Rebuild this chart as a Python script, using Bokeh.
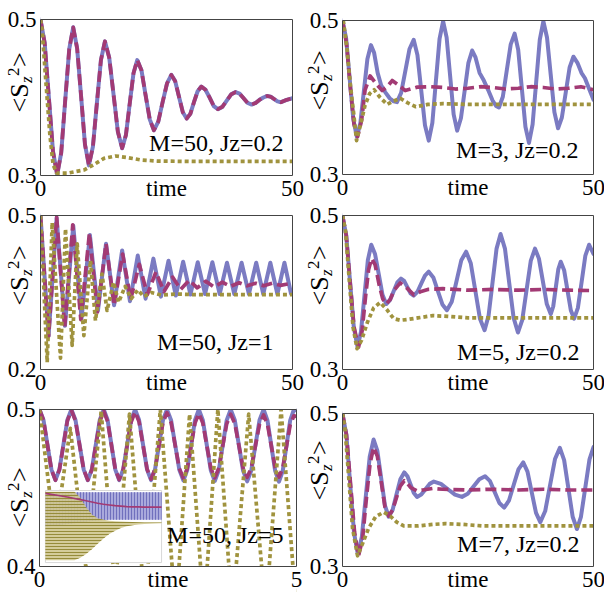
import math
from bokeh.plotting import figure
from bokeh.layouts import column, row
from bokeh.models import Label, Range1d
from bokeh.embed import file_html
from bokeh.resources import INLINE

SERIF = "Liberation Serif"
BLUE, MAG, OLV = "#7b7bc2", "#a23a74", "#a0933e"

# ---------------- top-left: M=50, Jz=0.2 (solid and dashed coincide) ----------------
tl_t = [0, 0.83, 1.66, 2.48, 3.31, 4.11, 4.90, 5.70, 6.49, 7.27, 8.05, 8.82, 9.6, 10.40, 11.19, 11.99,
        12.78, 13.64, 14.49, 15.35, 16.2, 16.95, 17.7, 18.45, 19.2, 20.03, 20.85, 21.68, 22.5, 23.37,
        24.23, 25.1, 25.96, 26.72, 27.48, 28.24, 29.0, 29.73, 30.45, 31.18, 31.9, 32.73, 33.55, 34.38,
        35.2, 36.08, 36.95, 37.83, 38.7, 39.5, 40.3, 41.1, 41.9, 42.68, 43.45, 44.23, 45.0, 45.68,
        46.35, 47.03, 47.7, 48.85, 50]
tl_v = [0.500, 0.470, 0.400, 0.331, 0.301, 0.329, 0.396, 0.462, 0.490, 0.463, 0.402, 0.340, 0.313, 0.337,
        0.393, 0.448, 0.472, 0.451, 0.404, 0.356, 0.335, 0.352, 0.392, 0.431, 0.448, 0.435, 0.403, 0.372,
        0.358, 0.369, 0.394, 0.418, 0.429, 0.421, 0.401, 0.381, 0.373, 0.379, 0.394, 0.408, 0.414, 0.410,
        0.400, 0.389, 0.385, 0.388, 0.396, 0.404, 0.407, 0.405, 0.399, 0.393, 0.391, 0.393, 0.397, 0.400,
        0.402, 0.401, 0.398, 0.395, 0.394, 0.397, 0.399]
tl_o_t = [0, 0.33, 1.0, 1.85, 2.5, 3.2, 5.3, 8.6, 10.6, 12.6, 14.9, 17.2, 19.9, 23.2, 30, 40, 50]
tl_o_v = [0.5, 0.486, 0.426, 0.353, 0.314, 0.303, 0.303, 0.307, 0.314, 0.322, 0.325, 0.323, 0.320, 0.3185,
          0.318, 0.318, 0.318]

# ---------------- top-right: M=3, Jz=0.2 ----------------
tr_b_t = [0, 0.72, 1.43, 2.15, 2.86, 3.56, 4.26, 4.96, 5.66, 6.3, 7.0, 7.7, 8.5, 9.4, 10.2, 10.85, 11.68,
          12.52, 13.35, 14.18, 14.93, 15.68, 16.43, 17.18, 17.9, 18.61, 19.33, 20.04, 20.74, 21.44, 22.14,
          22.84, 23.59, 24.34, 25.08, 25.83, 26.5, 27.3, 28.16, 29.0, 29.9, 30.6, 31.16, 31.94, 32.72,
          33.51, 34.29, 35.0, 35.72, 36.44, 37.15, 37.87, 38.58, 39.3, 40.01, 40.74, 41.48, 42.21, 42.94,
          43.7, 44.47, 45.24, 46.0, 46.8, 47.6, 48.3, 49.2, 50]
tr_b_v = [0.5, 0.477, 0.4245, 0.372, 0.349, 0.367, 0.4085, 0.450, 0.468, 0.458, 0.432, 0.416, 0.407, 0.399,
          0.395, 0.394, 0.406, 0.4345, 0.463, 0.475, 0.455, 0.4095, 0.364, 0.344, 0.367, 0.4215, 0.476,
          0.499, 0.478, 0.428, 0.378, 0.357, 0.373, 0.409, 0.445, 0.461, 0.452, 0.432, 0.422, 0.410, 0.396,
          0.389, 0.387, 0.401, 0.435, 0.469, 0.483, 0.462, 0.412, 0.362, 0.341, 0.365, 0.420, 0.475, 0.499,
          0.478, 0.4295, 0.381, 0.360, 0.374, 0.4065, 0.439, 0.453, 0.445, 0.432, 0.425, 0.410, 0.397]
tr_m_t = [0, 0.8, 1.6, 2.3, 3.0, 3.8, 4.5, 5.5, 6.7, 7.9, 8.9, 9.9, 11.2, 12.5, 14.9, 17.5, 20, 22.5, 25,
          27.5, 30, 32.5, 35, 37.5, 40, 42.5, 45, 47.5, 50]
tr_m_v = [0.5, 0.47, 0.41, 0.365, 0.349, 0.37, 0.41, 0.428, 0.418, 0.409, 0.414, 0.422, 0.416, 0.409, 0.4135,
          0.414, 0.413, 0.411, 0.412, 0.414, 0.413, 0.411, 0.412, 0.414, 0.413, 0.411, 0.412, 0.414, 0.410]
tr_o_t = [0, 0.2, 0.9, 1.5, 2.2, 2.8, 3.6, 4.5, 5.4, 6.3, 7.5, 8.9, 10.0, 11.5, 13.0, 14.6, 17, 20, 25, 30,
          40, 50]
tr_o_v = [0.5, 0.498, 0.463, 0.42, 0.381, 0.344, 0.365, 0.39, 0.405, 0.41, 0.40, 0.391, 0.395, 0.399, 0.393,
          0.388, 0.391, 0.392, 0.391, 0.391, 0.391, 0.391]

# ---------------- middle-left: M=50, Jz=1 ----------------
ml_b_t = [0, 1.6, 3.2, 4.85, 6.5, 8.15, 9.8, 11.4, 13.0, 14.6, 16.2, 17.75, 19.3, 20.85, 22.4, 23.9, 25.4,
          26.85, 28.3, 29.75, 31.2, 32.65, 34.1, 35.55, 37.0, 38.45, 39.9, 41.35, 42.8, 44.2, 45.6, 47.0,
          48.4, 49.7, 50]
ml_b_v = [0.5, 0.265, 0.495, 0.285, 0.48, 0.30, 0.462, 0.315, 0.445, 0.325, 0.432, 0.333, 0.422, 0.338,
          0.416, 0.342, 0.412, 0.344, 0.410, 0.346, 0.409, 0.347, 0.409, 0.347, 0.408, 0.347, 0.408, 0.347,
          0.408, 0.347, 0.408, 0.347, 0.408, 0.348, 0.352]
ml_m_t = [0, 1.6, 3.2, 4.8, 6.4, 8.0, 9.7, 11.3, 13.0, 14.6, 16.3, 17.9, 19.6, 21.2, 22.9, 24.5, 26.2, 27.8,
          29.5, 31.1, 32.8, 34.4, 36.1, 37.7, 39.4, 41.0, 42.7, 44.3, 46.0, 47.6, 49.3, 50]
ml_m_v = [0.5, 0.265, 0.497, 0.282, 0.482, 0.297, 0.465, 0.312, 0.445, 0.325, 0.425, 0.337, 0.405, 0.346,
          0.39, 0.352, 0.38, 0.356, 0.374, 0.359, 0.372, 0.361, 0.370, 0.362, 0.369, 0.363, 0.368, 0.363,
          0.368, 0.364, 0.367, 0.366]
ml_o_t = [0, 1.33, 2.32, 3.97, 4.96, 6.28, 7.28, 8.6, 9.92, 10.9, 12.2, 13.2, 14.5, 15.5, 16.8, 18.0, 19.3,
          20.5, 22.0, 24.0, 27.0, 30.0, 40.0, 50.0]
ml_o_v = [0.5, 0.214, 0.486, 0.222, 0.474, 0.247, 0.445, 0.266, 0.412, 0.295, 0.386, 0.315, 0.37, 0.331,
          0.362, 0.338, 0.355, 0.342, 0.35, 0.345, 0.347, 0.346, 0.346, 0.346]

# ---------------- middle-right: M=5, Jz=0.2 ----------------
mr_b_t = [0, 0.75, 1.5, 2.25, 3.0, 3.68, 4.37, 5.05, 5.73, 6.48, 7.23, 7.97, 8.72, 9.45, 10.19, 10.92, 11.65,
          12.28, 12.92, 13.55, 14.18, 14.93, 15.68, 16.43, 17.18, 18.09, 18.99, 19.9, 20.8, 21.76, 22.72,
          23.67, 24.63, 25.55, 26.47, 27.38, 28.3, 29.1, 29.9, 30.69, 31.49, 32.36, 33.22, 34.09, 34.95,
          35.8, 36.65, 37.5, 38.35, 39.13, 39.92, 40.7, 41.48, 41.98, 42.48, 42.98, 43.48, 44.15, 44.81,
          45.48, 46.14, 46.89, 47.64, 48.38, 49.13, 50]
mr_b_v = [0.5, 0.474, 0.4145, 0.355, 0.329, 0.349, 0.3955, 0.442, 0.462, 0.450, 0.4235, 0.397, 0.385, 0.390,
          0.4015, 0.413, 0.418, 0.415, 0.407, 0.399, 0.396, 0.401, 0.4115, 0.422, 0.427, 0.4195, 0.402,
          0.3845, 0.377, 0.388, 0.415, 0.442, 0.453, 0.438, 0.402, 0.366, 0.351, 0.370, 0.4135, 0.457, 0.476,
          0.457, 0.412, 0.367, 0.348, 0.364, 0.4025, 0.441, 0.457, 0.444, 0.4145, 0.385, 0.372, 0.382, 0.406,
          0.430, 0.440, 0.429, 0.403, 0.377, 0.366, 0.380, 0.414, 0.448, 0.462, 0.450]
mr_m_t = [0, 0.75, 1.5, 2.3, 3.2, 3.9, 4.6, 5.2, 5.8, 6.5, 7.3, 8.0, 8.7, 9.5, 10.3, 11.5, 12.8, 14.2, 15.5,
          17, 20, 25, 30, 35, 40, 45, 50]
mr_m_v = [0.5, 0.474, 0.4145, 0.355, 0.329, 0.35, 0.395, 0.43, 0.444, 0.436, 0.41, 0.392, 0.385, 0.391, 0.403,
          0.4125, 0.406, 0.397, 0.401, 0.404, 0.405, 0.403, 0.404, 0.403, 0.404, 0.403, 0.4025]
mr_o_t = [0, 0.6, 1.3, 2.1, 2.9, 3.8, 5.0, 6.2, 7.5, 8.8, 10.2, 11.5, 13, 15, 18, 21, 25, 30, 40, 50]
mr_o_v = [0.5, 0.48, 0.42, 0.355, 0.327, 0.338, 0.362, 0.38, 0.387, 0.378, 0.366, 0.364, 0.365, 0.367, 0.370,
          0.369, 0.367, 0.367, 0.367, 0.367]

# ---------------- bottom-left: M=50, Jz=5 ----------------
bl_t = [0, 0.0775, 0.155, 0.2325, 0.31, 0.3875, 0.465, 0.5425, 0.62, 0.70, 0.78, 0.86, 0.94, 1.0175, 1.095,
        1.1725, 1.25, 1.325, 1.40, 1.475, 1.55, 1.6275, 1.705, 1.7825, 1.86, 1.9375, 2.015, 2.0925, 2.17,
        2.2475, 2.325, 2.4025, 2.48, 2.56, 2.64, 2.72, 2.80, 2.875, 2.95, 3.025, 3.10, 3.1775, 3.255, 3.3325,
        3.41, 3.4875, 3.565, 3.6425, 3.72, 3.80, 3.88, 3.96, 4.04, 4.12, 4.20, 4.28, 4.36, 4.435, 4.51,
        4.585, 4.66, 4.7325, 4.805, 4.8775, 4.95, 5.0]
bl_b_v = [0.5, 0.4933, 0.4775, 0.4617, 0.455, 0.4618, 0.4775, 0.4933, 0.5, 0.4933, 0.4775, 0.4617, 0.455,
          0.4618, 0.4775, 0.4933, 0.5, 0.4933, 0.4775, 0.4617, 0.455, 0.4618, 0.4775, 0.4933, 0.5, 0.4933,
          0.4775, 0.4617, 0.455, 0.4618, 0.4775, 0.4933, 0.5, 0.4932, 0.4774, 0.4616, 0.4548, 0.4616, 0.4774,
          0.4932, 0.5, 0.4932, 0.4773, 0.4613, 0.4545, 0.4613, 0.4773, 0.4932, 0.5, 0.4931, 0.4771, 0.4611,
          0.4542, 0.4611, 0.4771, 0.4931, 0.5, 0.4931, 0.477, 0.4609, 0.454, 0.4609, 0.477, 0.4931, 0.5, 0.4995]
bl_m_v = [0.5, 0.4933, 0.4775, 0.4617, 0.455, 0.4617, 0.4773, 0.4928, 0.4995, 0.4928, 0.4773, 0.4617, 0.455,
          0.4616, 0.477, 0.4924, 0.499, 0.4924, 0.4772, 0.4619, 0.4553, 0.4618, 0.4769, 0.492, 0.4985, 0.4921,
          0.4771, 0.4621, 0.4557, 0.4620, 0.4769, 0.4917, 0.498, 0.4917, 0.4771, 0.4625, 0.4562, 0.4624,
          0.4769, 0.4913, 0.4975, 0.4914, 0.477, 0.4627, 0.4565, 0.4626, 0.4768, 0.4909, 0.497, 0.491, 0.4769,
          0.4628, 0.4568, 0.4628, 0.4767, 0.4905, 0.4965, 0.4906, 0.4768, 0.4629, 0.457, 0.4629, 0.4765,
          0.4902, 0.496, 0.4955]
bl_o_t = [0, 0.3, 0.6, 0.9, 1.2, 1.47, 1.75, 2.05, 2.35, 2.65, 2.92, 3.2, 3.47, 3.75, 4.07, 4.4, 4.7, 5.0]
bl_o_v = [0.5, 0.42, 0.488, 0.40, 0.499, 0.385, 0.497, 0.375, 0.5, 0.37, 0.497, 0.37, 0.5, 0.37, 0.497, 0.37,
          0.5, 0.37]
# inset of the bottom-left panel (long-time view, arbitrary units)
ins_t = [0, 5, 10, 15, 20, 25, 30, 35, 40, 45, 50, 55, 60, 65, 70, 75, 80, 85, 90, 95, 100]
ins_ylim = [0.2, 0.5]
ins_b_hi = [0.493, 0.493, 0.493, 0.493, 0.493, 0.493, 0.493, 0.493, 0.493, 0.493, 0.493, 0.493, 0.493,
            0.493, 0.493, 0.493, 0.493, 0.493, 0.493, 0.493, 0.493]
ins_b_lo = [0.350, 0.352, 0.355, 0.358, 0.361, 0.364, 0.367, 0.370, 0.373, 0.375, 0.377, 0.378, 0.378,
            0.378, 0.378, 0.378, 0.378, 0.378, 0.378, 0.378, 0.378]
ins_o_hi = [0.495, 0.495, 0.495, 0.495, 0.495, 0.495, 0.47, 0.43, 0.40, 0.385, 0.378, 0.374, 0.372, 0.371,
            0.370, 0.369, 0.368, 0.367, 0.367, 0.367, 0.367]
ins_o_lo = [0.21, 0.21, 0.21, 0.21, 0.21, 0.21, 0.22, 0.236, 0.255, 0.278, 0.30, 0.319, 0.333, 0.344, 0.351,
            0.355, 0.358, 0.361, 0.362, 0.363, 0.364]
ins_m = [0.488, 0.484, 0.480, 0.476, 0.472, 0.467, 0.462, 0.457, 0.452, 0.447, 0.443, 0.440, 0.437, 0.435,
         0.433, 0.432, 0.432, 0.431, 0.431, 0.431, 0.431]

# ---------------- bottom-right: M=7, Jz=0.2 ----------------
br_b_t = [0, 0.77, 1.53, 2.3, 3.06, 3.85, 4.63, 5.42, 6.2, 6.95, 7.7, 8.45, 9.2, 9.98, 10.75, 11.53, 12.3,
          12.94, 13.58, 14.21, 14.85, 15.69, 16.53, 17.36, 18.2, 19.6, 21.0, 22.4, 23.8, 24.95, 26.1, 27.25,
          28.4, 29.35, 30.3, 31.25, 32.2, 33.15, 34.1, 35.05, 36.0, 36.85, 37.7, 38.55, 39.4, 40.38, 41.35,
          42.33, 43.3, 44.15, 45.0, 45.85, 46.7, 47.5, 48.35, 49.2, 50]
br_b_v = [0.5, 0.472, 0.408, 0.344, 0.316, 0.3385, 0.391, 0.4435, 0.466, 0.451, 0.4155, 0.380, 0.365, 0.374,
          0.394, 0.414, 0.423, 0.418, 0.407, 0.396, 0.391, 0.394, 0.401, 0.408, 0.411, 0.408, 0.401, 0.394,
          0.391, 0.395, 0.4045, 0.414, 0.418, 0.412, 0.3975, 0.383, 0.377, 0.386, 0.4065, 0.427, 0.436, 0.424,
          0.397, 0.370, 0.358, 0.3725, 0.4065, 0.4405, 0.455, 0.439, 0.402, 0.365, 0.349, 0.365, 0.4025, 0.44,
          0.456]
br_m_t = [0, 0.8, 1.6, 2.4, 3.2, 4.0, 4.7, 5.5, 6.2, 6.95, 7.7, 8.45, 9.2, 10.0, 10.75, 11.5, 12.3, 13.0,
          13.6, 14.85, 16, 18, 20, 25, 30, 35, 40, 45, 50]
br_m_v = [0.5, 0.472, 0.408, 0.345, 0.314, 0.336, 0.385, 0.435, 0.456, 0.444, 0.411, 0.378, 0.366, 0.374,
          0.39, 0.405, 0.412, 0.408, 0.403, 0.399, 0.40, 0.402, 0.401, 0.40, 0.401, 0.40, 0.401, 0.40, 0.40]
br_o_t = [0, 0.5, 1.2, 2.0, 3.0, 4.0, 5.2, 6.6, 8.2, 9.5, 10.8, 12.2, 15, 18, 20.5, 24, 28, 35, 50]
br_o_v = [0.5, 0.48, 0.42, 0.35, 0.314, 0.33, 0.35, 0.365, 0.371, 0.366, 0.358, 0.353, 0.353, 0.355, 0.356,
          0.355, 0.353, 0.353, 0.353]

# ticks / annotations
x_long, x_long_lab = [0, 50], ["0", "50"]
x_short, x_short_lab = [0, 5], ["0", "5"]
y_a, y_a_lab = [0.3, 0.5], ["0.3", "0.5"]
y_b, y_b_lab = [0.2, 0.5], ["0.2", "0.5"]
y_c, y_c_lab = [0.4, 0.5], ["0.4", "0.5"]


def make_fig(W, H, L, R, T, B, xr, yr):
    # the whole canvas is the frame; the panel box (L..R, T..B in px) holds xr x yr
    kx = (xr[1] - xr[0]) / (R - L)
    ky = (yr[1] - yr[0]) / (B - T)
    p = figure(width=W, height=H,
               x_range=Range1d(xr[0] - L * kx, xr[1] + (W - R) * kx),
               y_range=Range1d(yr[0] - (H - B) * ky, yr[1] + T * ky),
               x_axis_location=None, y_axis_location=None, toolbar_location=None,
               output_backend="svg", min_border=0, min_border_left=0, min_border_right=0,
               min_border_top=0, min_border_bottom=0)
    p.outline_line_color = None
    p.xgrid.visible = False
    p.ygrid.visible = False
    p.background_fill_color = "white"
    p.border_fill_color = "white"
    return p


def box(p, xr, yr):
    xs, xe = p.x_range.start, p.x_range.end
    ys, ye = p.y_range.start, p.y_range.end
    p.quad(left=[xs, xr[1], xr[0], xr[0]], right=[xr[0], xe, xr[1], xr[1]],
           bottom=[ys, ys, ys, yr[1]], top=[ye, ye, yr[0], ye],
           fill_color="white", line_color=None)
    p.quad(left=[xr[0]], right=[xr[1]], bottom=[yr[0]], top=[yr[1]],
           fill_color=None, line_color="#444444", line_width=1)


def txt(p, x, y, s, size, align, xo=0, yo=0, angle=0.0, style="normal"):
    p.add_layout(Label(x=x, y=y, text=s, text_font=SERIF, text_font_size=f"{size}px",
                       text_font_style=style, text_color="black", text_align=align,
                       text_baseline="middle", x_offset=xo, y_offset=yo, angle=angle))


def decorate(p, xr, yr, xt, xl, yt, yl, note, ndx, ndy, ldx, ldy):
    box(p, xr, yr)
    for v, s in zip(xt, xl):
        txt(p, v, yr[0], s, 23, "center", 0, -13)
    for v, s in zip(yt, yl):
        txt(p, xr[0], v, s, 23, "right", -4, 0)
    txt(p, (xr[0] + xr[1]) / 2, yr[0], "time", 23, "center", 0, -13)
    txt(p, xr[1], yr[0], note, 24, "right", ndx, ndy)
    a = math.pi / 2
    txt(p, xr[0], yr[0], "<S", 26, "left", ldx, ldy, a)
    txt(p, xr[0], yr[0], "z", 17, "left", ldx + 6.5, ldy + 29.5, a, "italic")
    txt(p, xr[0], yr[0], "2", 17, "left", ldx - 6.5, ldy + 36.5, a)
    txt(p, xr[0], yr[0], ">", 26, "left", ldx, ldy + 45.5, a)


def curves(p, bt_, bv, mt, mv, ot, ov):
    p.line(bt_, bv, line_color=BLUE, line_width=4, line_join="round", line_cap="round")
    p.line(mt, mv, line_color=MAG, line_width=3.7, line_dash="11 5", line_join="round")
    p.line(ot, ov, line_color=OLV, line_width=3.7, line_dash="4 3", line_join="round")


L50, S5 = (0, 50), (0, 5)
YA, YB, YC = (0.3, 0.5), (0.2, 0.5), (0.4, 0.5)

p1 = make_fig(304, 200, 40, 292, 19, 175, L50, YA)
curves(p1, tl_t, tl_v, tl_t, tl_v, tl_o_t, tl_o_v)
decorate(p1, L50, YA, x_long, x_long_lab, y_a, y_a_lab, "M=50, Jz=0.2", -9, 32.5, -21, 63)

p2 = make_fig(300, 200, 38, 289, 20, 174, L50, YA)
curves(p2, tr_b_t, tr_b_v, tr_m_t, tr_m_v, tr_o_t, tr_o_v)
decorate(p2, L50, YA, x_long, x_long_lab, y_a, y_a_lab, "M=3, Jz=0.2", -15, 25, -23, 64)

p3 = make_fig(304, 194, 40, 292, 15, 169, L50, YB)
curves(p3, ml_b_t, ml_b_v, ml_m_t, ml_m_v, ml_o_t, ml_o_v)
decorate(p3, L50, YB, x_long, x_long_lab, y_b, y_b_lab, "M=50, Jz=1", -19, 27.5, -21, 64)

p4 = make_fig(300, 194, 38, 289, 15, 169, L50, YA)
curves(p4, mr_b_t, mr_b_v, mr_m_t, mr_m_v, mr_o_t, mr_o_v)
decorate(p4, L50, YA, x_long, x_long_lab, y_a, y_a_lab, "M=5, Jz=0.2", -14, 18, -23, 64)

p5 = make_fig(304, 198, 39, 296, 15, 172, S5, YC)
curves(p5, bl_t, bl_b_v, bl_t, bl_m_v, bl_o_t, bl_o_v)
# inset placed in a sub-box of the panel through extra ranges
fx0, fx1, fy0, fy1 = 0.023, 0.475, 0.025, 0.484
fr_x = ((p5.x_range.start - S5[0]) / (S5[1] - S5[0]), (p5.x_range.end - S5[0]) / (S5[1] - S5[0]))
fr_y = ((p5.y_range.start - YC[0]) / (YC[1] - YC[0]), (p5.y_range.end - YC[0]) / (YC[1] - YC[0]))
sx = (ins_t[-1] - ins_t[0]) / (fx1 - fx0)
sy = (ins_ylim[1] - ins_ylim[0]) / (fy1 - fy0)
ix0 = ins_t[0] - fx0 * sx
iy0 = ins_ylim[0] - fy0 * sy
p5.extra_x_ranges = {"ix": Range1d(ix0 + fr_x[0] * sx, ix0 + fr_x[1] * sx)}
p5.extra_y_ranges = {"iy": Range1d(iy0 + fr_y[0] * sy, iy0 + fr_y[1] * sy)}
kw = dict(x_range_name="ix", y_range_name="iy")
p5.quad(left=[ins_t[0]], right=[ins_t[-1]], bottom=[ins_ylim[0]], top=[ins_ylim[1]],
        fill_color="white", line_color="#d8d8d8", line_width=1, **kw)
p5.varea(x=ins_t, y1=ins_b_lo, y2=ins_b_hi, fill_color="#a9a9dc", hatch_pattern="|",
         hatch_color="#7070bd", hatch_scale=3, hatch_weight=1, **kw)
p5.varea(x=ins_t, y1=ins_o_lo, y2=ins_o_hi, fill_color="#cfc78f", fill_alpha=0.9, hatch_pattern="-",
         hatch_color="#968c3a", hatch_scale=3, hatch_weight=1, **kw)
p5.line(ins_t, ins_m, line_color=MAG, line_width=1.6, **kw)
decorate(p5, S5, YC, x_short, x_short_lab, y_c, y_c_lab, "M=50, Jz=5", -13, 31.5, -20, 39)

p6 = make_fig(300, 198, 38, 289, 19, 172, L50, YA)
curves(p6, br_b_t, br_b_v, br_m_t, br_m_v, br_o_t, br_o_v)
decorate(p6, L50, YA, x_long, x_long_lab, y_a, y_a_lab, "M=7, Jz=0.2", -14, 23, -23, 66)

layout = column(row(p1, p2), row(p3, p4), row(p5, p6))
open("out.html", "w").write(file_html(layout, INLINE))
